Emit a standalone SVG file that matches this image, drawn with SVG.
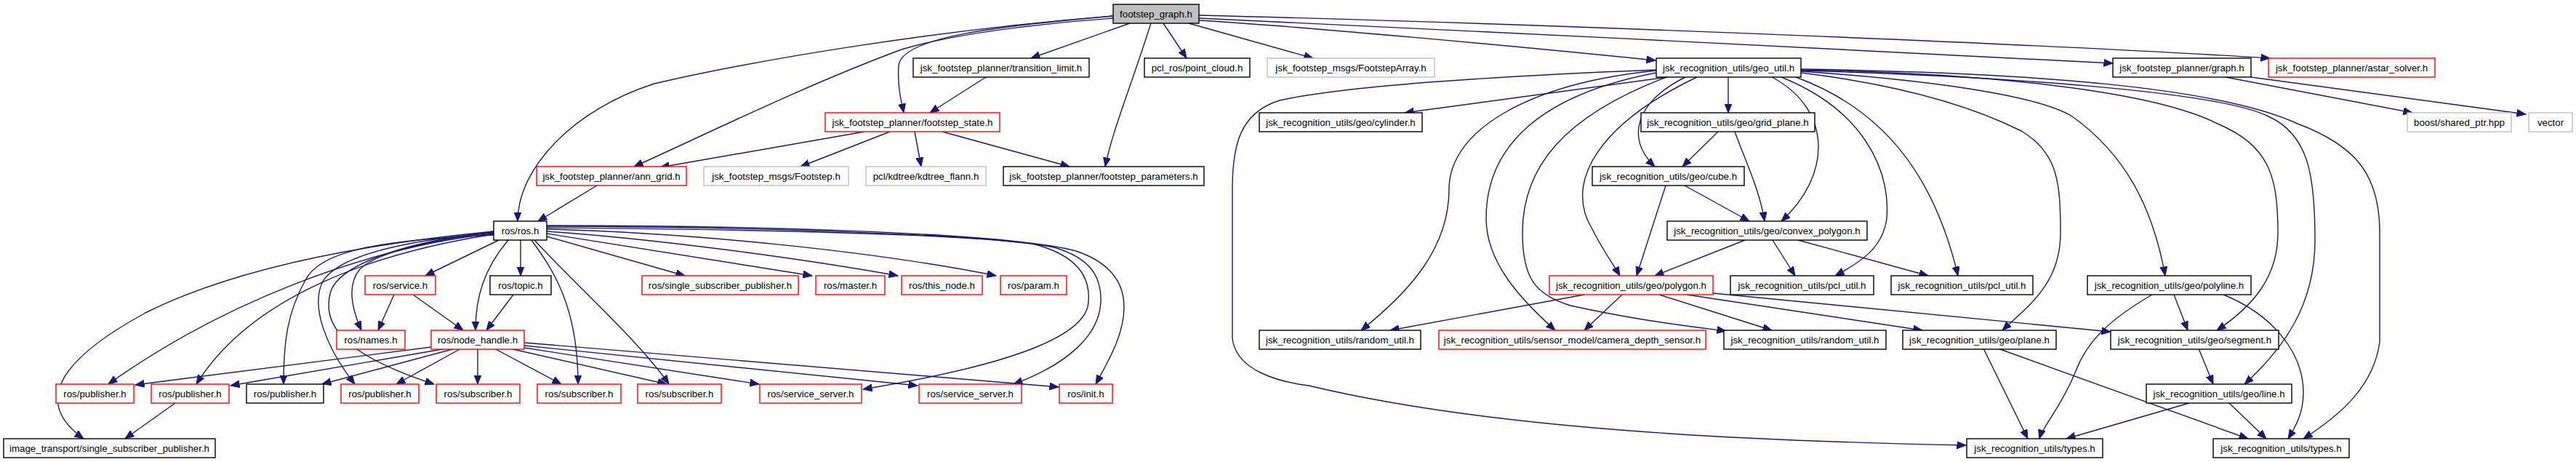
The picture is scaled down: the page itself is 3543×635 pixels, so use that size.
<svg xmlns="http://www.w3.org/2000/svg" width="3543" height="635" viewBox="0 0 3543 635">
<style>
.n rect{fill:#fff;stroke:#000;stroke-width:1.4}
.n.red rect{stroke:#ff0000}
.n.gray rect{stroke:#bfbfbf}
.n.root rect{fill:#bfbfbf}
.n text{font-family:"Liberation Sans",Arial,sans-serif;font-size:13.3px;text-anchor:middle;fill:#000}
#edges path{fill:none;stroke:#191970;stroke-width:1.4;marker-end:url(#a)}
</style>
<defs>
<marker id="a" markerUnits="userSpaceOnUse" markerWidth="14" markerHeight="12" refX="12.5" refY="5" orient="auto">
<path d="M0,0 L12.5,5 L0,10 z" fill="#191970" stroke="#191970" stroke-width="1"/>
</marker>
</defs>
<rect width="3543" height="635" fill="#fff"/>
<g id="edges">
<path d="M1531,22 C1300,40 1050,80 900,115 C790,150 712,230 712,304"/>
<path d="M1531,25 C1400,35 1300,50 1240,68 C1100,120 960,190 872,229"/>
<path d="M1531,22 C1380,35 1240,50 1236,90 C1234,120 1240,140 1243,155"/>
<path d="M1554,32 L1418,80"/>
<path d="M1583,32 C1555,120 1530,180 1520,229"/>
<path d="M1600,32 L1632,80"/>
<path d="M1635,32 L1806,80"/>
<path d="M1649,28 C1800,37 2100,65 2277,83"/>
<path d="M1649,25 C2000,40 2600,72 2906,87"/>
<path d="M1649,21 C2100,32 2800,60 3122,80"/>
<path d="M1356,106 L1279,155"/>
<path d="M1189,181 L908,230"/>
<path d="M1224,181 L1101,229"/>
<path d="M1258,181 L1267,229"/>
<path d="M1296,181 L1471,229"/>
<path d="M821,255 L740,304"/>
<path d="M686,330 L585,379"/>
<path d="M699,330 C665,370 654,410 654,454"/>
<path d="M716,330 L716,379"/>
<path d="M731,330 C760,370 795,420 795,528"/>
<path d="M735,330 C800,400 880,470 920,528"/>
<path d="M752,325 L942,379"/>
<path d="M752,321 L1117,379"/>
<path d="M752,318 C900,328 1100,355 1235,379"/>
<path d="M752,315 C950,320 1200,345 1370,379"/>
<path d="M752,313 C1000,315 1300,320 1420,335 C1480,350 1500,380 1497,415 C1495,460 1400,500 1187,535"/>
<path d="M752,311 C1000,312 1350,320 1450,340 C1500,355 1515,380 1514,415 C1512,460 1470,500 1394,528"/>
<path d="M752,310 C1000,310 1380,318 1480,345 C1530,362 1546,390 1546,422 C1546,460 1525,495 1507,528"/>
<path d="M679,318 C600,330 520,345 495,370 C478,390 482,420 497,454"/>
<path d="M679,321 C500,340 300,420 149,528"/>
<path d="M679,322 C530,345 350,400 270,528"/>
<path d="M679,323 C520,330 440,345 420,385 C395,430 390,470 390,528"/>
<path d="M679,320 C560,330 470,350 445,385 C425,420 450,480 488,528"/>
<path d="M679,319 C570,330 470,360 455,400 C440,450 480,490 597,528"/>
<path d="M679,318 C450,340 300,380 200,430 C90,490 40,550 115,603"/>
<path d="M542,405 L520,454"/>
<path d="M568,405 L637,454"/>
<path d="M706,405 L669,454"/>
<path d="M593,477 L186,529"/>
<path d="M614,479 L317,530"/>
<path d="M626,479 L443,528"/>
<path d="M634,479 L545,528"/>
<path d="M657,479 L657,528"/>
<path d="M680,479 L772,528"/>
<path d="M701,479 L917,528"/>
<path d="M721,478 L1044,528"/>
<path d="M721,475 L1262,530"/>
<path d="M721,471 L1456,532"/>
<path d="M241,554 L172,603"/>
<path d="M2294,106 L1932,155"/>
<path d="M2377,106 L2377,155"/>
<path d="M2318,106 C2250,140 2235,190 2276,229"/>
<path d="M2437,106 C2520,150 2520,240 2450,304"/>
<path d="M2334,106 C2200,170 2150,250 2190,315 C2205,345 2220,365 2228,379"/>
<path d="M2278,97 C2100,115 1993,180 1993,260 C1993,340 1940,400 1872,454"/>
<path d="M2278,100 C2120,130 2044,200 2044,300 C2044,360 2090,410 2139,454"/>
<path d="M2292,106 C2150,160 2094,230 2094,320 C2094,380 2110,405 2160,420 C2250,440 2320,448 2374,455"/>
<path d="M2278,96 C2050,105 1850,118 1760,138 C1705,155 1695,200 1695,260 L1695,465 C1700,510 1760,525 1800,530 C2050,590 2400,606 2704,612"/>
<path d="M2450,106 C2560,150 2600,230 2595,300 C2590,340 2560,360 2524,379"/>
<path d="M2470,106 C2590,150 2660,240 2693,379"/>
<path d="M2477,100 C2600,115 2700,140 2780,180 C2830,210 2834,250 2834,320 C2834,390 2790,420 2754,454"/>
<path d="M2477,98 C2650,110 2800,130 2850,160 C2920,210 2960,280 2978,379"/>
<path d="M2477,96 C2700,100 2950,120 3050,170 C3120,200 3133,240 3133,320 C3133,380 3100,420 3049,454"/>
<path d="M2477,97 C2750,105 3050,125 3120,160 C3175,185 3184,240 3184,330 C3184,420 3140,480 3087,528"/>
<path d="M2477,95 C2800,100 3050,120 3160,170 C3240,200 3273,240 3273,320 L3273,470 C3265,530 3220,570 3168,603"/>
<path d="M2363,181 L2314,229"/>
<path d="M2386,181 C2400,220 2420,260 2427,304"/>
<path d="M2317,255 L2406,304"/>
<path d="M2291,255 L2251,379"/>
<path d="M2400,330 L2276,379"/>
<path d="M2438,330 L2469,379"/>
<path d="M2473,330 L2652,379"/>
<path d="M2179,405 L1912,454"/>
<path d="M2231,405 L2179,454"/>
<path d="M2282,405 L2437,454"/>
<path d="M2320,405 L2644,454"/>
<path d="M2356,403 L2903,456"/>
<path d="M2960,405 C2900,440 2870,470 2855,510 C2835,560 2810,585 2805,603"/>
<path d="M2990,405 L3009,454"/>
<path d="M3058,405 C3120,430 3168,480 3168,540 C3168,570 3155,590 3147,603"/>
<path d="M2728,479 L2789,603"/>
<path d="M2748,479 L3092,603"/>
<path d="M3024,479 L3044,528"/>
<path d="M3011,554 L2842,603"/>
<path d="M3066,554 L3117,603"/>
<path d="M3061,106 L3318,155"/>
<path d="M3096,106 L3474,157"/>
</g>
<g id="n0" class="n root"><rect x="1531" y="6" width="118" height="26"/><text x="1590" y="23.5">footstep_graph.h</text></g>
<g id="n1" class="n"><rect x="1256" y="80" width="242" height="26"/><text x="1377" y="97.5">jsk_footstep_planner/transition_limit.h</text></g>
<g id="n2" class="n"><rect x="1574" y="80" width="145" height="26"/><text x="1646.5" y="97.5">pcl_ros/point_cloud.h</text></g>
<g id="n3" class="n gray"><rect x="1743" y="80" width="230" height="26"/><text x="1858" y="97.5">jsk_footstep_msgs/FootstepArray.h</text></g>
<g id="n4" class="n"><rect x="2278" y="80" width="199" height="26"/><text x="2377.5" y="97.5">jsk_recognition_utils/geo_util.h</text></g>
<g id="n5" class="n"><rect x="2906" y="80" width="190" height="26"/><text x="3001" y="97.5">jsk_footstep_planner/graph.h</text></g>
<g id="n6" class="n red"><rect x="3120" y="80" width="229" height="26"/><text x="3234.5" y="97.5">jsk_footstep_planner/astar_solver.h</text></g>
<g id="n7" class="n red"><rect x="1135" y="155" width="240" height="26"/><text x="1255" y="172.5">jsk_footstep_planner/footstep_state.h</text></g>
<g id="n8" class="n"><rect x="1732" y="155" width="224" height="26"/><text x="1844" y="172.5">jsk_recognition_utils/geo/cylinder.h</text></g>
<g id="n9" class="n"><rect x="2257" y="155" width="239" height="26"/><text x="2376.5" y="172.5">jsk_recognition_utils/geo/grid_plane.h</text></g>
<g id="n10" class="n gray"><rect x="3311" y="155" width="143" height="26"/><text x="3382.5" y="172.5">boost/shared_ptr.hpp</text></g>
<g id="n11" class="n gray"><rect x="3478" y="155" width="60" height="26"/><text x="3508" y="172.5">vector</text></g>
<g id="n12" class="n red"><rect x="738" y="229" width="206" height="26"/><text x="841" y="246.5">jsk_footstep_planner/ann_grid.h</text></g>
<g id="n13" class="n gray"><rect x="968" y="229" width="199" height="26"/><text x="1067.5" y="246.5">jsk_footstep_msgs/Footstep.h</text></g>
<g id="n14" class="n gray"><rect x="1191" y="229" width="165" height="26"/><text x="1273.5" y="246.5">pcl/kdtree/kdtree_flann.h</text></g>
<g id="n15" class="n"><rect x="1380" y="229" width="276" height="26"/><text x="1518" y="246.5">jsk_footstep_planner/footstep_parameters.h</text></g>
<g id="n16" class="n"><rect x="2190" y="229" width="209" height="26"/><text x="2294.5" y="246.5">jsk_recognition_utils/geo/cube.h</text></g>
<g id="n17" class="n"><rect x="679" y="304" width="73" height="26"/><text x="715.5" y="321.5">ros/ros.h</text></g>
<g id="n18" class="n"><rect x="2293" y="304" width="275" height="26"/><text x="2430.5" y="321.5">jsk_recognition_utils/geo/convex_polygon.h</text></g>
<g id="n19" class="n red"><rect x="502" y="379" width="97" height="26"/><text x="550.5" y="396.5">ros/service.h</text></g>
<g id="n20" class="n"><rect x="674" y="379" width="84" height="26"/><text x="716" y="396.5">ros/topic.h</text></g>
<g id="n21" class="n red"><rect x="883" y="379" width="215" height="26"/><text x="990.5" y="396.5">ros/single_subscriber_publisher.h</text></g>
<g id="n22" class="n red"><rect x="1122" y="379" width="95" height="26"/><text x="1169.5" y="396.5">ros/master.h</text></g>
<g id="n23" class="n red"><rect x="1240" y="379" width="111" height="26"/><text x="1295.5" y="396.5">ros/this_node.h</text></g>
<g id="n24" class="n red"><rect x="1376" y="379" width="91" height="26"/><text x="1421.5" y="396.5">ros/param.h</text></g>
<g id="n25" class="n red"><rect x="2131" y="379" width="225" height="26"/><text x="2243.5" y="396.5">jsk_recognition_utils/geo/polygon.h</text></g>
<g id="n26" class="n"><rect x="2380" y="379" width="197" height="26"/><text x="2478.5" y="396.5">jsk_recognition_utils/pcl_util.h</text></g>
<g id="n27" class="n"><rect x="2601" y="379" width="195" height="26"/><text x="2698.5" y="396.5">jsk_recognition_utils/pcl_util.h</text></g>
<g id="n28" class="n"><rect x="2871" y="379" width="225" height="26"/><text x="2983.5" y="396.5">jsk_recognition_utils/geo/polyline.h</text></g>
<g id="n29" class="n red"><rect x="463" y="454" width="94" height="26"/><text x="510" y="471.5">ros/names.h</text></g>
<g id="n30" class="n red"><rect x="593" y="454" width="128" height="26"/><text x="657" y="471.5">ros/node_handle.h</text></g>
<g id="n31" class="n"><rect x="1732" y="454" width="222" height="26"/><text x="1843" y="471.5">jsk_recognition_utils/random_util.h</text></g>
<g id="n32" class="n red"><rect x="1979" y="454" width="367" height="26"/><text x="2162.5" y="471.5">jsk_recognition_utils/sensor_model/camera_depth_sensor.h</text></g>
<g id="n33" class="n"><rect x="2371" y="454" width="223" height="26"/><text x="2482.5" y="471.5">jsk_recognition_utils/random_util.h</text></g>
<g id="n34" class="n"><rect x="2617" y="454" width="211" height="26"/><text x="2722.5" y="471.5">jsk_recognition_utils/geo/plane.h</text></g>
<g id="n35" class="n"><rect x="2903" y="454" width="231" height="26"/><text x="3018.5" y="471.5">jsk_recognition_utils/geo/segment.h</text></g>
<g id="n36" class="n red"><rect x="77" y="528" width="107" height="26"/><text x="130.5" y="545.5">ros/publisher.h</text></g>
<g id="n37" class="n red"><rect x="208" y="528" width="107" height="26"/><text x="261.5" y="545.5">ros/publisher.h</text></g>
<g id="n38" class="n"><rect x="339" y="528" width="106" height="26"/><text x="392" y="545.5">ros/publisher.h</text></g>
<g id="n39" class="n red"><rect x="469" y="528" width="107" height="26"/><text x="522.5" y="545.5">ros/publisher.h</text></g>
<g id="n40" class="n red"><rect x="600" y="528" width="115" height="26"/><text x="657.5" y="545.5">ros/subscriber.h</text></g>
<g id="n41" class="n red"><rect x="739" y="528" width="115" height="26"/><text x="796.5" y="545.5">ros/subscriber.h</text></g>
<g id="n42" class="n red"><rect x="877" y="528" width="115" height="26"/><text x="934.5" y="545.5">ros/subscriber.h</text></g>
<g id="n43" class="n red"><rect x="1045" y="528" width="140" height="26"/><text x="1115" y="545.5">ros/service_server.h</text></g>
<g id="n44" class="n red"><rect x="1264" y="528" width="141" height="26"/><text x="1334.5" y="545.5">ros/service_server.h</text></g>
<g id="n45" class="n red"><rect x="1457" y="528" width="73" height="26"/><text x="1493.5" y="545.5">ros/init.h</text></g>
<g id="n46" class="n"><rect x="2952" y="528" width="200" height="26"/><text x="3052" y="545.5">jsk_recognition_utils/geo/line.h</text></g>
<g id="n47" class="n"><rect x="5" y="603" width="291" height="26"/><text x="150.5" y="620.5">image_transport/single_subscriber_publisher.h</text></g>
<g id="n48" class="n"><rect x="2705" y="603" width="187" height="26"/><text x="2798.5" y="620.5">jsk_recognition_utils/types.h</text></g>
<g id="n49" class="n"><rect x="3044" y="603" width="187" height="26"/><text x="3137.5" y="620.5">jsk_recognition_utils/types.h</text></g>
</svg>
